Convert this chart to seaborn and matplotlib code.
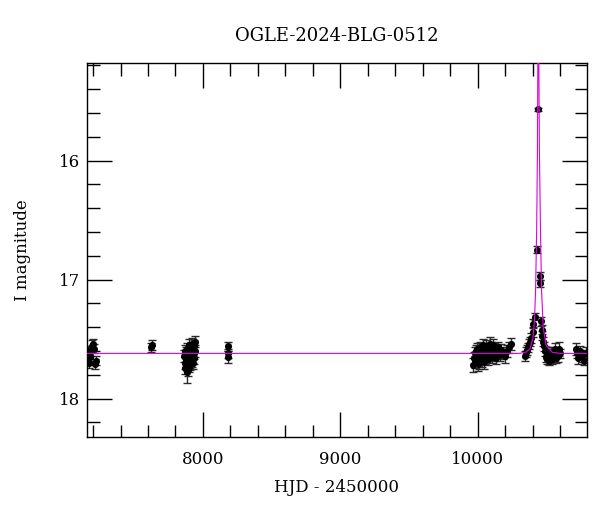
import numpy as np
import pandas as pd
import matplotlib
matplotlib.use("Agg")
import matplotlib.pyplot as plt
from matplotlib.ticker import MultipleLocator
import seaborn as sns

# photometry
hjd = [
    7162, 7166, 7168, 7172, 7175, 7178, 7185, 7192, 7198, 7205, 7212, 7220,
    7622, 7628,
    7862, 7866, 7870, 7872, 7875, 7878, 7880, 7882, 7884, 7885, 7888, 7890,
    7892, 7895, 7897, 7898, 7900, 7903, 7905, 7906, 7908, 7910, 7912, 7915,
    7918, 7920, 7922, 7925, 7928, 7930, 7932, 7935, 7938, 7940, 7943,
    8180, 8182, 8184,
    9968, 9972, 9976, 9980, 9985, 9990, 9995, 9998, 10000, 10005, 10010,
    10015, 10020, 10025, 10030, 10035, 10040, 10045, 10048, 10050, 10055,
    10060, 10065, 10070, 10075, 10080, 10085, 10090, 10095, 10100, 10105,
    10110, 10115, 10120, 10125, 10130, 10140, 10150, 10160, 10170, 10180,
    10200, 10215, 10230, 10240,
    10340, 10350, 10360, 10368, 10375, 10382, 10390, 10398, 10402, 10415,
    10429, 10436,
    10451, 10453, 10463, 10466, 10470, 10476, 10482, 10488, 10495, 10500,
    10505, 10510, 10515, 10520, 10525, 10530, 10540, 10550, 10560, 10570,
    10580, 10590, 10600,
    10712, 10720, 10730, 10745, 10760, 10775, 10785,
]
mag = [
    17.66, 17.60, 17.62, 17.70, 17.65, 17.64, 17.60, 17.56, 17.54, 17.58, 17.71, 17.68,
    17.57, 17.55,
    17.64, 17.70, 17.60, 17.74, 17.66, 17.68, 17.62, 17.72, 17.78, 17.58, 17.66, 17.76,
    17.63, 17.69, 17.55, 17.73, 17.61, 17.67, 17.59, 17.65, 17.71, 17.64, 17.57, 17.62,
    17.68, 17.54, 17.60, 17.65, 17.58, 17.70, 17.62, 17.56, 17.66, 17.60, 17.52,
    17.56, 17.62, 17.65,
    17.72, 17.66, 17.62, 17.69, 17.60, 17.65, 17.58, 17.71, 17.67, 17.62, 17.70,
    17.57, 17.64, 17.60, 17.68, 17.55, 17.63, 17.59, 17.69, 17.66, 17.61,
    17.56, 17.64, 17.58, 17.67, 17.60, 17.54, 17.62, 17.57, 17.65, 17.59,
    17.55, 17.63, 17.58, 17.61, 17.66, 17.60, 17.57, 17.63, 17.59, 17.62,
    17.64, 17.60, 17.57, 17.54,
    17.64, 17.61, 17.59, 17.57, 17.54, 17.52, 17.49, 17.44, 17.37, 17.31,
    16.75, 15.57,
    16.97, 17.03, 17.35, 17.42, 17.47, 17.52, 17.56, 17.60, 17.65, 17.62,
    17.67, 17.63, 17.68, 17.64, 17.66, 17.62, 17.67, 17.63, 17.58, 17.66,
    17.64, 17.58, 17.62,
    17.58, 17.62, 17.66, 17.60, 17.64, 17.68, 17.62,
]
err = [
    0.04, 0.04, 0.04, 0.04, 0.04, 0.04, 0.04, 0.05, 0.04, 0.04, 0.04, 0.04,
    0.04, 0.04,
    0.05, 0.05, 0.05, 0.05, 0.05, 0.05, 0.05, 0.05, 0.09, 0.05, 0.05, 0.05,
    0.05, 0.05, 0.05, 0.05, 0.05, 0.05, 0.05, 0.05, 0.05, 0.05, 0.05, 0.05,
    0.05, 0.05, 0.05, 0.05, 0.05, 0.05, 0.05, 0.05, 0.05, 0.05, 0.05,
    0.04, 0.04, 0.05,
    0.06, 0.05, 0.05, 0.05, 0.05, 0.05, 0.05, 0.06, 0.05, 0.05, 0.05,
    0.05, 0.05, 0.05, 0.05, 0.05, 0.05, 0.05, 0.06, 0.05, 0.05,
    0.05, 0.05, 0.05, 0.05, 0.05, 0.06, 0.05, 0.05, 0.05, 0.05,
    0.05, 0.05, 0.05, 0.05, 0.05, 0.05, 0.05, 0.05, 0.05, 0.05,
    0.06, 0.05, 0.05, 0.05,
    0.04, 0.04, 0.04, 0.04, 0.04, 0.04, 0.04, 0.04, 0.04, 0.03,
    0.03, 0.01,
    0.03, 0.03, 0.04, 0.04, 0.04, 0.04, 0.04, 0.04, 0.04, 0.05,
    0.04, 0.05, 0.04, 0.05, 0.04, 0.05, 0.04, 0.06, 0.05, 0.04,
    0.05, 0.06, 0.04,
    0.05, 0.04, 0.05, 0.04, 0.05, 0.04, 0.05,
]

# model curve
model_hjd = [7156, 10300, 10350, 10380, 10400, 10412, 10420, 10428, 10434, 10438,
             10442, 10448, 10456, 10464, 10476, 10496, 10540, 10600, 10793]
model_mag = [17.62, 17.62, 17.61, 17.58, 17.50, 17.35, 17.10, 16.60, 15.90, 14.80,
             14.80, 15.90, 16.60, 17.10, 17.40, 17.55, 17.61, 17.62, 17.62]

obs = pd.DataFrame({"hjd": hjd, "mag": mag, "err": err})
model = pd.DataFrame({"hjd": model_hjd, "mag": model_mag})

sns.set_style("ticks")
plt.rcParams["font.family"] = ["DejaVu Serif"]
plt.rcParams["font.size"] = 12
plt.rcParams["text.color"] = "black"
plt.rcParams["axes.labelcolor"] = "black"
plt.rcParams["xtick.color"] = "black"
plt.rcParams["ytick.color"] = "black"

fig, ax = plt.subplots(figsize=(6, 5.12), dpi=100)
fig.subplots_adjust(left=0.145, right=0.978, top=0.877, bottom=0.147)

ax.errorbar(obs["hjd"], obs["mag"], yerr=obs["err"], fmt="none",
            ecolor="#2a2a2a", elinewidth=1, capsize=3, capthick=1, zorder=2)
sns.scatterplot(data=obs, x="hjd", y="mag", color="black", s=26,
                edgecolor="black", linewidth=0, ax=ax, zorder=3)
sns.lineplot(data=model, x="hjd", y="mag", color="#e000e0", lw=0.8,
             ax=ax, zorder=4, sort=False)

ax.set_xlim(7156, 10793)
ax.set_ylim(18.32, 15.18)
ax.xaxis.set_major_locator(MultipleLocator(1000))
ax.xaxis.set_minor_locator(MultipleLocator(200))
ax.yaxis.set_major_locator(MultipleLocator(1))
ax.yaxis.set_minor_locator(MultipleLocator(0.2))
ax.tick_params(which="both", direction="in", top=True, right=True,
               colors="black", labelcolor="black")
ax.tick_params(which="major", length=18, width=1, labelsize=12)
ax.tick_params(which="minor", length=9, width=1)
ax.tick_params(axis="x", which="major", pad=10)
ax.tick_params(axis="y", which="major", pad=5)
for s in ax.spines.values():
    s.set_linewidth(1)
    s.set_color("black")

ax.set_title("OGLE-2024-BLG-0512", fontsize=13, pad=16, color="black")
ax.set_xlabel("HJD - 2450000", fontsize=12, labelpad=8, color="black")
ax.set_ylabel("I magnitude", fontsize=12, labelpad=20, color="black")

fig.savefig("out.png", dpi=100)
